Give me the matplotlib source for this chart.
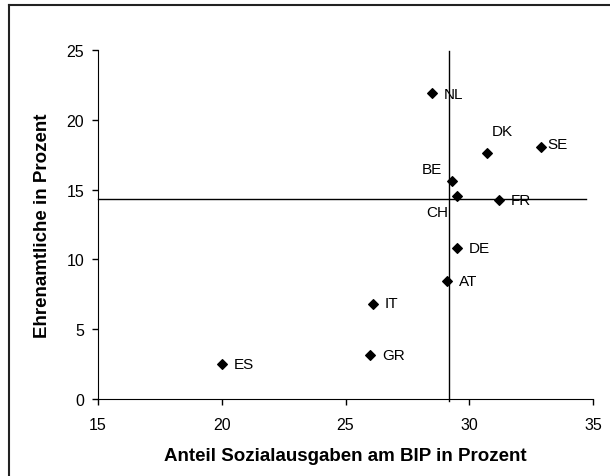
import matplotlib.pyplot as plt
from matplotlib.lines import Line2D

plt.rcParams['font.family'] = ['Liberation Sans', 'DejaVu Sans']

# Countries: social spending share of GDP vs. share of volunteers
countries = ["ES", "GR", "IT", "AT", "DE", "CH", "BE", "FR", "DK", "SE", "NL"]
sozialausgaben = [20.0, 26.0, 26.1, 29.1, 29.5, 29.5, 29.3, 31.2, 30.7, 32.9, 28.5]
ehrenamtliche = [2.5, 3.15, 6.8, 8.45, 10.85, 14.55, 15.6, 14.25, 17.65, 18.05, 21.9]

# Mean lines
mean_x = 29.17
mean_y = 14.3

# label offsets (pixels) and alignment per country
offsets = {
    "ES": (12, 0, "left"), "GR": (12, 0, "left"), "IT": (12, 1, "left"),
    "AT": (12, 0, "left"), "DE": (12, 0, "left"), "CH": (-9, -16, "right"),
    "BE": (-10, 12, "right"), "FR": (12, 0, "left"), "DK": (5, 22, "left"),
    "SE": (6, 3, "left"), "NL": (12, -1, "left"),
}

fig = plt.figure(figsize=(6.10, 4.77), dpi=100)
ax = fig.add_axes([98 / 610, 1 - 400 / 477, (593 - 98) / 610, (400 - 51) / 477])

ax.scatter(sozialausgaben, ehrenamtliche, marker="D", s=24, color="black", zorder=3)
for name, x, y in zip(countries, sozialausgaben, ehrenamtliche):
    dx, dy, ha = offsets[name]
    ax.annotate(name, (x, y), xytext=(dx, dy), textcoords="offset pixels",
                ha=ha, va="center", fontsize=11)

ax.plot([mean_x, mean_x], [-0.15, 24.9], color="black", lw=1, clip_on=False)
ax.plot([15, 34.7], [mean_y, mean_y], color="black", lw=1, clip_on=False)

ax.set_xlim(15, 35)
ax.set_ylim(0, 25)
ax.set_xticks([15, 20, 25, 30, 35])
ax.set_yticks([0, 5, 10, 15, 20, 25])
ax.spines["top"].set_visible(False)
ax.spines["right"].set_visible(False)
ax.tick_params(direction="out", length=4, width=1, labelsize=11.5, colors="black")
ax.tick_params(axis="x", pad=9)
ax.tick_params(axis="y", pad=6)
ax.set_xlabel("Anteil Sozialausgaben am BIP in Prozent", fontsize=13.5, fontweight="bold", va="center")
ax.set_ylabel("Ehrenamtliche in Prozent", fontsize=13.5, fontweight="bold", va="center")
ax.xaxis.set_label_coords(0.5, -57 / 349)
ax.yaxis.set_label_coords(-55 / 495, 0.5)

# outer chart border (left and top visible)
fig.add_artist(Line2D([8.5 / 610, 8.5 / 610], [0, 1 - 6 / 477], color="#222222", lw=1.5))
fig.add_artist(Line2D([8.5 / 610, 1], [1 - 6 / 477, 1 - 6 / 477], color="#222222", lw=1.5))

fig.savefig("out.png", dpi=100)
